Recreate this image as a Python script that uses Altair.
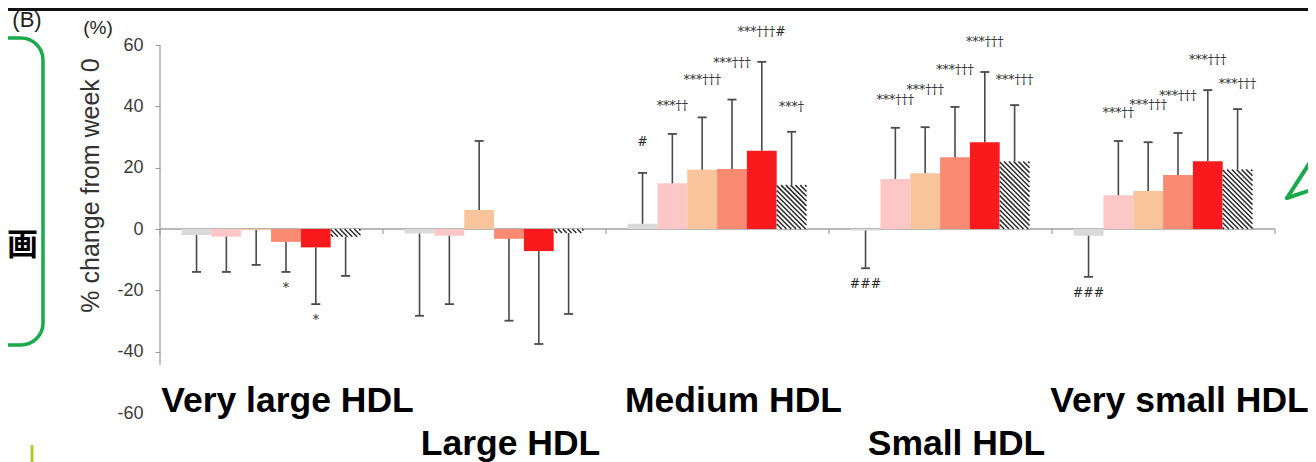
import altair as alt
import pandas as pd

# ---------------- data ----------------
groups = ["Very large HDL", "Large HDL", "Medium HDL", "Small HDL", "Very small HDL"]
series = ["A", "B", "C", "D", "E", "F"]
colors = ["#d9d9d9", "#fdc7c7", "#f9c49c", "#fa8a72", "#f81a1c", "#ffffff"]

mean_very_large = [-2.0, -2.5, -0.3, -4.2, -6.0, -2.5]
mean_large = [-1.5, -2.2, 6.2, -3.2, -7.2, -1.3]
mean_medium = [1.7, 14.9, 19.3, 19.6, 25.5, 14.3]
mean_small = [-0.5, 16.3, 18.2, 23.4, 28.3, 22.0]
mean_very_small = [-2.2, 11.0, 12.4, 17.6, 22.1, 19.4]

sd_very_large = [12.0, 11.5, 11.4, 9.8, 18.5, 12.8]
sd_large = [26.8, 22.3, 22.5, 26.7, 30.3, 26.4]
sd_medium = [16.6, 16.1, 17.1, 22.6, 29.0, 17.4]
sd_small = [12.3, 16.7, 15.0, 16.4, 22.9, 18.4]
sd_very_small = [13.4, 17.7, 15.9, 13.7, 23.2, 19.7]

ann_very_large = ["", "", "", "*", "*", ""]
ann_large = ["", "", "", "", "", ""]
ann_medium = ["#", "***††", "***†††", "***†††", "***†††#", "***†"]
ann_small = ["###", "***†††", "***†††", "***†††", "***†††", "***†††"]
ann_very_small = ["###", "***††", "***†††", "***†††", "***†††", "***†††"]

y_ticks = [-60, -40, -20, 0, 20, 40, 60]

# ---------------- layout / style constants ----------------
W, H = 1115, 368
PAD = 0.097
BW = 0.1337
XS = W / 5.0
YS = H / 120.0
CAP = 4.5 / XS
# pixel lift of the significance labels above the error-bar ends, per series
ANN_LIFT = {"A": -31, "B": -28, "C": -37, "D": -37, "E": -30, "F": -25}

means = [mean_very_large, mean_large, mean_medium, mean_small, mean_very_small]
sds = [sd_very_large, sd_large, sd_medium, sd_small, sd_very_small]
anns = [ann_very_large, ann_large, ann_medium, ann_small, ann_very_small]

rows = []
for i, g in enumerate(groups):
    for j, s in enumerate(series):
        m = means[i][j]
        sd = sds[i][j]
        x0 = i + PAD + j * BW
        end = m + sd if m >= 0 else m - sd
        rows.append(dict(group=g, series=s, x0=x0, x1=x0 + BW, xc=x0 + BW / 2,
                         cl=x0 + BW / 2 - CAP, cr=x0 + BW / 2 + CAP,
                         lo=min(0, m), hi=max(0, m), mean=m, end=end,
                         ann=anns[i][j], pos=m >= 0))
df = pd.DataFrame(rows)

# hatch segments for the last series
hatch = []
STEP = 4.8
for r in rows:
    if r["series"] != series[-1]:
        continue
    wp = BW * XS
    hp = (r["hi"] - r["lo"]) * YS
    k = -wp + 1.5
    while k < hp:
        xa = max(0.0, -k)
        xb = min(wp, hp - k)
        if xb - xa > 0.4:
            hatch.append(dict(x=r["x0"] + xa / XS, y=r["hi"] - (xa + k) / YS,
                              x2=r["x0"] + xb / XS, y2=r["hi"] - (xb + k) / YS))
        k += STEP
hdf = pd.DataFrame(hatch)

xscale = alt.Scale(domain=[0, 5], nice=False, zero=False)
yscale = alt.Scale(domain=[-60, 60], nice=False, zero=False)

yaxis = alt.Axis(
    values=y_ticks, domain=False, grid=False, tickColor="#9a9a9a", tickSize=5,
    tickOpacity={"condition": {"test": "datum.value == -60", "value": 0}, "value": 1},
    labelExpr="'' + datum.value",
    labelFont="Liberation Sans", labelFontSize=18, labelColor="#3a3a3a", labelPadding=12,
    title="% change from week 0", titleFont="Liberation Sans", titleFontSize=25,
    titleFontWeight="normal", titleColor="#333333", titleX=-70, titleY=140,
    titleAngle=270, titleAlign="center", titleBaseline="middle",
)


def X(f):
    return alt.X(f, scale=xscale, axis=None)


def Y(f):
    return alt.Y(f, scale=yscale, axis=yaxis)


base = alt.Chart(df)

bars = base.mark_bar(stroke=None).encode(
    x=X("x0:Q"), x2="x1:Q", y=Y("lo:Q"), y2="hi:Q",
    color=alt.Color("series:N", scale=alt.Scale(domain=series, range=colors), legend=None),
)

hatch_lines = alt.Chart(hdf).mark_rule(color="#2a2a2a", strokeWidth=1.5).encode(
    x=X("x:Q"), x2="x2:Q", y=Y("y:Q"), y2="y2:Q",
)

stems = base.mark_rule(color="#4a4a4a", strokeWidth=1.6).encode(
    x=X("xc:Q"), y=Y("mean:Q"), y2="end:Q",
)
caps = base.mark_rule(color="#4a4a4a", strokeWidth=1.8).encode(
    x=X("cl:Q"), x2="cr:Q", y=Y("end:Q"),
)

ann_layers = []
for s in series:
    ann_layers.append(
        base.transform_filter(f"datum.pos && datum.ann != '' && datum.series == '{s}'").mark_text(
            font="DejaVu Serif", fontSize=12.5, color="#2a2a2a", dy=ANN_LIFT[s], baseline="middle"
        ).encode(x=X("xc:Q"), y=Y("end:Q"), text="ann:N")
    )
ann_down = base.transform_filter("!datum.pos && datum.ann != ''").mark_text(
    font="DejaVu Serif", fontSize=12.5, color="#2a2a2a", dy=16, baseline="middle"
).encode(x=X("xc:Q"), y=Y("end:Q"), text="ann:N")

# zero line, boundary ticks and the y-axis line
bounds = pd.DataFrame({"b": [0, 1, 2, 3, 4, 5]})
zero_line = alt.Chart(pd.DataFrame({"a": [0], "b": [5], "z": [0]})).mark_rule(
    color="#a0a0a0", strokeWidth=1.3
).encode(x=X("a:Q"), x2="b:Q", y=Y("z:Q"))
bticks = alt.Chart(bounds).mark_rule(color="#a0a0a0", strokeWidth=1.2).encode(
    x=X("b:Q"), y=alt.value(H / 2), y2=alt.value(H / 2 + 5),
)
y_line = alt.Chart(pd.DataFrame({"x": [0], "t": [60], "u": [-44.3]})).mark_rule(
    color="#a0a0a0", strokeWidth=1.3
).encode(x=X("x:Q"), y=Y("t:Q"), y2="u:Q")

# group labels (staggered)
gdf = pd.DataFrame({"group": groups, "gc": [i + 0.5 for i in range(5)],
                    "row": [i % 2 for i in range(5)]})
glab_top = alt.Chart(gdf).transform_filter("datum.row == 0").mark_text(
    font="Liberation Sans", fontWeight="bold", fontSize=35.5, color="#000000",
    baseline="alphabetic", align="center", dx=16
).encode(x=X("gc:Q"), y=alt.value(367), text="group:N")
glab_bot = alt.Chart(gdf).transform_filter("datum.row == 1").mark_text(
    font="Liberation Sans", fontWeight="bold", fontSize=35.5, color="#000000",
    baseline="alphabetic", align="center", dx=16
).encode(x=X("gc:Q"), y=alt.value(410), text="group:N")

# slide decorations
one = pd.DataFrame({"k": [0]})
top_line = alt.Chart(one).mark_rule(color="#111111", strokeWidth=3).encode(
    x=alt.value(-152), x2=alt.value(W + 33), y=alt.value(-35.5)
)
green_box = alt.Chart(one).mark_rect(
    fill=None, stroke="#17ab4b", strokeWidth=3.5, cornerRadius=22
).encode(x=alt.value(-200), x2=alt.value(-117), y=alt.value(-7), y2=alt.value(300))
tri1 = alt.Chart(one).mark_rule(color="#17ab4b", strokeWidth=4, strokeCap="round").encode(
    x=alt.value(1127), x2=alt.value(1160), y=alt.value(153), y2=alt.value(102)
)
tri2 = alt.Chart(one).mark_rule(color="#17ab4b", strokeWidth=4, strokeCap="round").encode(
    x=alt.value(1127), x2=alt.value(1160), y=alt.value(153), y2=alt.value(142)
)
yg_line = alt.Chart(one).mark_rule(color="#a6d12a", strokeWidth=3).encode(
    x=alt.value(-128), y=alt.value(400), y2=alt.value(420)
)
t_b = alt.Chart(one).mark_text(font="Liberation Sans", fontSize=22, color="#222222").encode(
    x=alt.value(-133), y=alt.value(-25), text=alt.value("(B)")
)
t_pct = alt.Chart(one).mark_text(font="Liberation Sans", fontSize=19, color="#222222").encode(
    x=alt.value(-62), y=alt.value(-17), text=alt.value("(%)")
)
t_ga = alt.Chart(one).mark_text(font="Noto Sans CJK JP", fontWeight="bold", fontSize=31,
                                color="#000000", align="left", baseline="middle").encode(
    x=alt.value(-153), y=alt.value(201), text=alt.value("画")
)

chart = alt.layer(
    zero_line, bticks, y_line, bars, hatch_lines, stems, caps, *ann_layers, ann_down,
    glab_top, glab_bot, top_line, green_box, tri1, tri2, yg_line, t_b, t_pct, t_ga
).properties(
    width=W, height=H,
    padding={"left": 152, "top": 37, "right": 33, "bottom": 49},
    autosize=alt.AutoSizeParams(type="none"),
    background="white",
).configure_view(stroke=None)

chart.save("out.html", embed_options={"renderer": "svg", "actions": False})
